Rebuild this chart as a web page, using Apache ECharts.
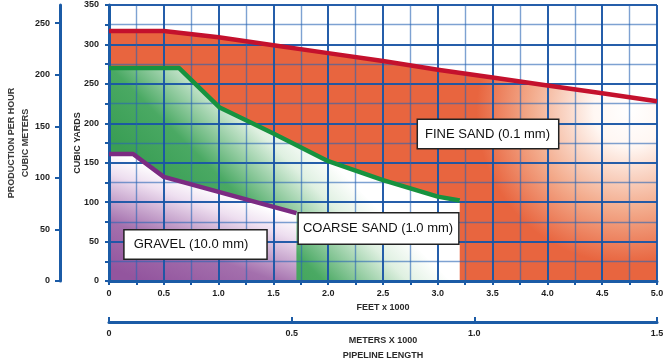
<!DOCTYPE html>
<html>
<head>
<meta charset="utf-8">
<script src="https://cdn.jsdelivr.net/npm/echarts@6.0.0/dist/echarts.min.js"></script>
<style>
html,body{margin:0;padding:0;background:#ffffff;}
#chart{width:671px;height:363px;}
</style>
</head>
<body>
<div id="chart"></div>
<script>
// ---- Data ----
const fineX   = [0, 0.5, 1.0, 1.5, 2.0, 2.5, 3.0, 3.5, 4.0, 4.5, 5.0];
const fineY   = [317, 317, 309, 299, 289, 279, 268, 258, 248, 238, 228];
const coarseX = [0, 0.64, 1.01, 1.5, 2.0, 2.5, 3.0, 3.2];
const coarseY = [270, 270, 220, 187, 152, 128, 107, 102];
const gravelX = [0, 0.22, 0.5, 1.0, 1.5, 1.71];
const gravelY = [161, 161, 132, 113, 94, 86];

const labelText = ['FINE SAND (0.1 mm)', 'COARSE SAND (1.0 mm)', 'GRAVEL (10.0 mm)'];
const labelX = [3.458, 2.459, 0.789];
const labelY = [186.4, 66.5, 46.3];

const feetLabels   = ['0', '0.5', '1.0', '1.5', '2.0', '2.5', '3.0', '3.5', '4.0', '4.5', '5.0'];
const meterLabels  = ['0', '0.5', '1.0', '1.5'];
const yardLabels   = ['0', '50', '100', '150', '200', '250', '300', '350'];
const metricLabels = ['0', '50', '100', '150', '200', '250'];

const YD3_TO_M3 = 0.764555;

// ---- Styles ----
const BLUE = '#1b5ba6';
const FONT = "'Liberation Sans', Arial, sans-serif";
const tickFont = { fontFamily: FONT, fontWeight: 'bold', fontSize: 9, color: '#1e1e1e' };
const nameFont = { fontFamily: FONT, fontWeight: 'bold', fontSize: 9, color: '#2a2a2a' };
const labelPads = [[7, 8, 7, 7], [8, 5, 8, 4], [7, 18, 7, 9]];

const pairs = (xs, ys) => xs.map((x, i) => [x, ys[i]]);

const fineGrad = {
  type: 'radial', x: 0.95, y: 0.32, r: 0.72,
  colorStops: [
    { offset: 0, color: '#ffffff' },
    { offset: 0.2, color: '#fff7f3' },
    { offset: 0.55, color: '#f3ab8c' },
    { offset: 0.85, color: '#e8653f' },
    { offset: 1, color: '#e8653f' }
  ]
};
const coarseGrad = {
  type: 'linear', x: 0.365, y: 0.915, x2: 0.644, y2: 0.455,
  colorStops: [
    { offset: 0, color: '#3a9e55' },
    { offset: 0.35, color: '#4aa963' },
    { offset: 0.78, color: '#dff0e1' },
    { offset: 1, color: '#ffffff' }
  ]
};
const gravelGrad = {
  type: 'linear', x: 0.353, y: 1.083, x2: 0.55, y2: 0.269,
  colorStops: [
    { offset: 0, color: '#93559e' },
    { offset: 0.4, color: '#a470ad' },
    { offset: 0.82, color: '#eedff0' },
    { offset: 1, color: '#ffffff' }
  ]
};

function areaSeries(xs, ys, grad) {
  return {
    type: 'line', data: pairs(xs, ys), z: 1, silent: true,
    symbol: 'none', showSymbol: false,
    lineStyle: { opacity: 0 },
    areaStyle: { color: grad, opacity: 1 }
  };
}
function strokeSeries(xs, ys, color) {
  return {
    type: 'line', data: pairs(xs, ys), z: 5, silent: true,
    symbol: 'none', showSymbol: false,
    lineStyle: { color: color, width: 4.5, join: 'round', cap: 'butt' }
  };
}

const chart = echarts.init(document.getElementById('chart'), null, { renderer: 'canvas' });

const option = {
  animation: false,
  backgroundColor: '#ffffff',
  grid: { left: 109, right: 14, top: 5, bottom: 82, containLabel: false, outerBoundsMode: 'none' },
  xAxis: [
    {
      type: 'value', min: 0, max: 5, interval: 0.5, z: 3,
      axisLine: { show: true, onZero: false, lineStyle: { color: BLUE, width: 3 } },
      axisTick: { show: true, length: 4, lineStyle: { color: BLUE, width: 2 } },
      minorTick: { show: true, splitNumber: 2, length: 4, lineStyle: { color: BLUE, width: 2 } },
      splitLine: { show: true, lineStyle: { color: 'rgba(25,85,165,0.95)', width: 2 } },
      minorSplitLine: { show: true, lineStyle: { color: 'rgba(40,100,180,0.6)', width: 1.4 } },
      axisLabel: Object.assign({}, tickFont, {
        margin: 8, showMinLabel: true, showMaxLabel: true, hideOverlap: false,
        formatter: v => feetLabels[Math.round(v / 0.5)] || ''
      }),
      name: 'FEET x 1000', nameLocation: 'middle', nameGap: 22, nameMoveOverlap: false,
      nameTextStyle: nameFont
    },
    {
      type: 'value', min: 0, max: 1.5, interval: 0.5, position: 'bottom', offset: 41, z: 3,
      axisLine: { show: true, onZero: false, lineStyle: { color: BLUE, width: 3 } },
      axisTick: { show: true, inside: true, length: 5, lineStyle: { color: BLUE, width: 2 } },
      splitLine: { show: false },
      axisLabel: Object.assign({}, tickFont, {
        margin: 7, showMinLabel: true, showMaxLabel: true, hideOverlap: false,
        formatter: v => meterLabels[Math.round(v / 0.5)] || ''
      }),
      name: 'METERS X 1000\nPIPELINE LENGTH', nameLocation: 'middle', nameGap: 11, nameMoveOverlap: false,
      nameTextStyle: Object.assign({}, nameFont, { lineHeight: 15 })
    }
  ],
  yAxis: [
    {
      type: 'value', min: 0, max: 350, interval: 50, z: 3,
      axisLine: { show: true, onZero: false, lineStyle: { color: BLUE, width: 3 } },
      axisTick: { show: true, length: 4, lineStyle: { color: BLUE, width: 2 } },
      minorTick: { show: true, splitNumber: 2, length: 4, lineStyle: { color: BLUE, width: 2 } },
      splitLine: { show: true, lineStyle: { color: 'rgba(25,85,165,0.95)', width: 2 } },
      minorSplitLine: { show: true, lineStyle: { color: 'rgba(40,100,180,0.6)', width: 1.4 } },
      axisLabel: Object.assign({}, tickFont, {
        margin: 10, showMinLabel: true, showMaxLabel: true, hideOverlap: false,
        formatter: v => yardLabels[Math.round(v / 50)] || ''
      }),
      name: 'CUBIC YARDS', nameLocation: 'middle', nameGap: 27, nameMoveOverlap: false,
      nameTextStyle: nameFont
    },
    {
      type: 'value', min: 0, max: 350 * YD3_TO_M3, interval: 50, position: 'left', offset: 49, z: 3,
      axisLine: { show: true, onZero: false, lineStyle: { color: BLUE, width: 3 } },
      axisTick: { show: true, length: 5, lineStyle: { color: BLUE, width: 2 } },
      splitLine: { show: false },
      axisLabel: Object.assign({}, tickFont, {
        margin: 10, showMaxLabel: false, hideOverlap: false,
        formatter: v => (Math.abs(v / 50 - Math.round(v / 50)) < 1e-6 ? (metricLabels[Math.round(v / 50)] || '') : '')
      }),
      name: 'PRODUCTION PER HOUR\nCUBIC METERS', nameLocation: 'middle', nameGap: 27, nameMoveOverlap: false,
      nameTextStyle: Object.assign({}, nameFont, { lineHeight: 14, color: '#3a3a3a' })
    }
  ],
  series: [
    areaSeries(fineX, fineY, fineGrad),
    areaSeries(coarseX, coarseY, coarseGrad),
    areaSeries(gravelX, gravelY, gravelGrad),
    strokeSeries(fineX, fineY, '#c4112d'),
    strokeSeries(coarseX, coarseY, '#17923f'),
    strokeSeries(gravelX, gravelY, '#7b2b82'),
    {
      type: 'scatter', z: 10, silent: true, symbolSize: 1,
      itemStyle: { color: 'rgba(0,0,0,0)', opacity: 1 },
      data: labelText.map((t, i) => ({
        value: [labelX[i], labelY[i]], name: t,
        label: { padding: labelPads[i] }
      })),
      label: {
        show: true, position: 'inside', formatter: '{b}', opacity: 1,
        fontFamily: FONT, fontSize: 13, lineHeight: 14, color: '#111111',
        backgroundColor: '#ffffff', borderColor: '#222222', borderWidth: 1.5
      }
    }
  ]
};
chart.setOption(option);
</script>
</body>
</html>
